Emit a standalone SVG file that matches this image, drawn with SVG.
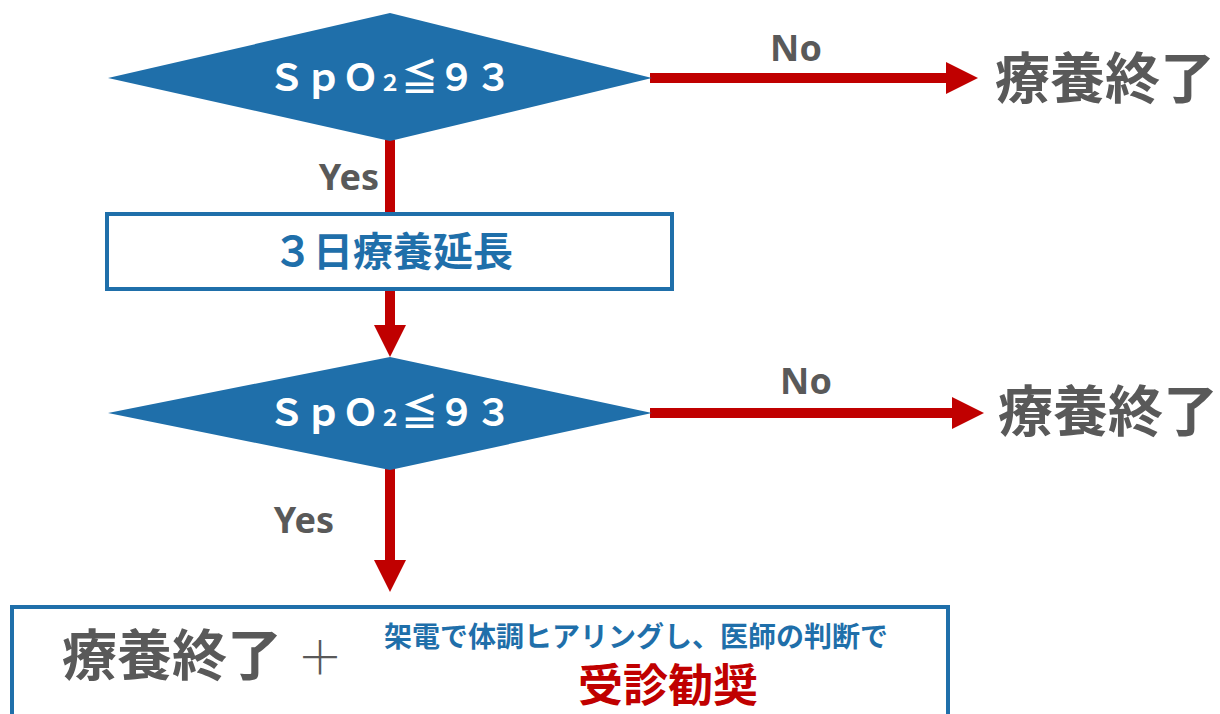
<svg xmlns="http://www.w3.org/2000/svg" width="1220" height="714" viewBox="0 0 1220 714">
<style>
.dia{fill:#1F6FAA;}
.dtxt{fill:#fff;font-family:"Noto Sans CJK JP",sans-serif;font-size:37px;font-weight:bold;text-anchor:middle;}
.box{fill:#fff;stroke:#1F6FAA;stroke-width:4;}
.con{stroke:#C00000;stroke-width:10;fill:none;}
.lbl{fill:#595959;font-family:"Noto Sans","Open Sans",sans-serif;font-weight:bold;font-size:36px;text-anchor:middle;}
.end{fill:#595959;font-family:"Noto Sans CJK JP",sans-serif;font-weight:bold;font-size:55px;}
</style>
<defs>
<marker id="ah" markerUnits="userSpaceOnUse" markerWidth="34" markerHeight="34" refX="0" refY="17" orient="auto" viewBox="0 0 34 34">
<path d="M0,1 L32,17 L0,33 Z" fill="#C00000"/>
</marker>
</defs>
<g id="connectors">
<line class="con" x1="390" y1="140" x2="390" y2="215"/>
<line class="con" x1="390" y1="289" x2="390" y2="325" marker-end="url(#ah)"/>
<line class="con" x1="390" y1="468" x2="390" y2="560" marker-end="url(#ah)"/>
<line class="con" x1="650" y1="78" x2="946" y2="78" marker-end="url(#ah)"/>
<line class="con" x1="650" y1="413" x2="952" y2="413" marker-end="url(#ah)"/>
<text class="lbl" x="796" y="61">No</text>
<text class="lbl" x="806" y="394">No</text>
<text class="lbl" x="349" y="190">Yes</text>
<text class="lbl" x="304" y="533">Yes</text>
</g>
<g id="d1">
<polygon class="dia" points="108,78 390,13 652,78 390,141"/>
<text class="dtxt" x="390" y="91">ＳｐＯ<tspan font-size="22">２</tspan>≦９３</text>
</g>
<g id="end1">
<text class="end" x="995" y="98">療養終了</text>
</g>
<g id="b1">
<rect class="box" x="107" y="214" width="565" height="75"/>
<text x="393" y="266" fill="#1F6FAA" font-family="Noto Sans CJK JP,sans-serif" font-weight="bold" font-size="40" text-anchor="middle">３日療養延長</text>
</g>
<g id="d2">
<polygon class="dia" points="108,413 390,357 652,413 390,470"/>
<text class="dtxt" x="390" y="426">ＳｐＯ<tspan font-size="22">２</tspan>≦９３</text>
</g>
<g id="end2">
<text class="end" x="998" y="431">療養終了</text>
</g>
<g id="b2">
<rect class="box" x="12" y="607" width="936" height="120"/>
<text class="end" x="62" y="675">療養終了</text>
<text x="320" y="674" fill="#595959" font-family="Noto Sans CJK JP,sans-serif" font-size="46" font-weight="300" text-anchor="middle">＋</text>
<text x="636" y="647" fill="#1F6FAA" font-family="Noto Sans CJK JP,sans-serif" font-weight="bold" font-size="28" text-anchor="middle">架電で体調ヒアリングし、医師の判断で</text>
<text x="668" y="702" fill="#C00000" font-family="Noto Sans CJK JP,sans-serif" font-weight="bold" font-size="45" text-anchor="middle">受診勧奨</text>
</g>
</svg>
